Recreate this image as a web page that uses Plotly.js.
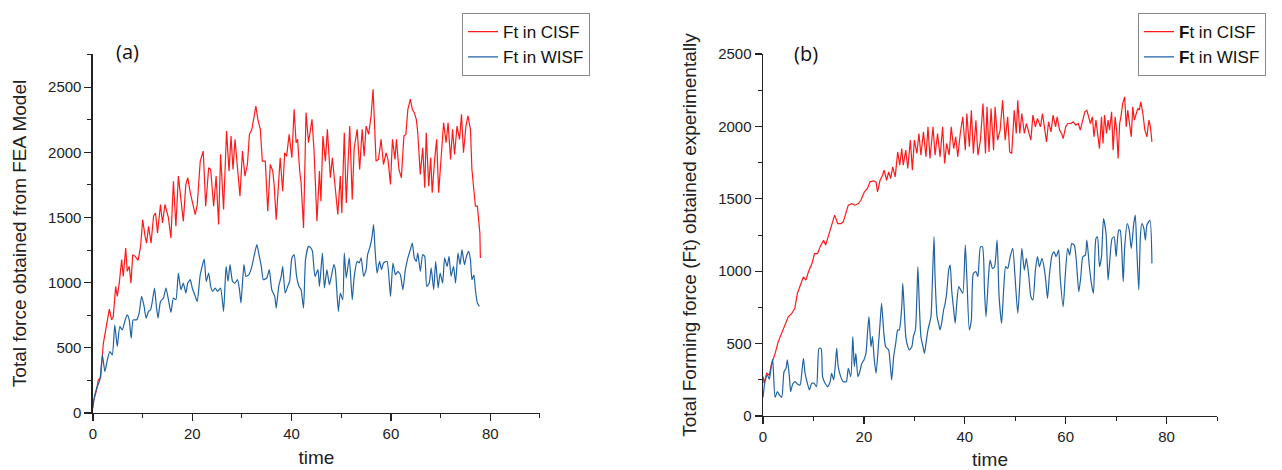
<!DOCTYPE html>
<html>
<head>
<meta charset="utf-8">
<script src="https://cdn.plot.ly/plotly-3.0.1.min.js"></script>
<style>html,body{margin:0;padding:0;background:#fff;}#chart{width:1282px;height:470px;}</style>
</head>
<body>
<div id="chart"></div>
<script>
// ---- (a) FEA model ----
const timeA_CISF = [0,0.74,1.08,1.55,2.08,2.4,2.9,3.3,3.76,4.1,4.57,4.9,5.3,5.78,6.1,6.6,6.9,7.3,7.66,8.0,8.5,9.1,9.6,10.0,10.5,10.8,11.2,11.7,12.2,12.6,13.0,13.6,14.0,14.5,15.2,15.7,16.2,16.7,17.2,17.7,18.2,18.7,19.1,19.6,20.1,20.6,21.0,21.6,22.2,22.7,23.3,23.7,24.3,24.8,25.3,25.7,26.3,26.9,27.4,27.8,28.2,28.6,29.1,29.6,30.1,30.6,31.1,31.5,32.0,32.3,32.8,33.2,33.7,34.1,34.7,35.2,35.7,36.2,36.5,36.9,37.4,37.7,38.2,38.6,39.0,39.5,40.05,40.5,40.9,41.2,41.6,41.9,42.4,42.9,43.4,43.7,44.1,44.5,45.1,45.6,45.9,46.3,46.8,47.2,47.8,48.2,48.8,49.3,49.8,50.1,50.6,51.0,51.7,52.2,52.6,53.2,53.7,54.2,54.6,55.0,55.5,56.0,56.4,56.7,57.0,57.5,58.0,58.5,59.0,59.4,59.9,60.3,60.8,61.1,61.6,62.1,62.6,63.0,63.4,63.9,64.3,64.7,65.1,65.4,65.9,66.4,66.8,67.1,67.6,68.0,68.3,68.8,69.2,69.6,70.1,70.6,71.1,71.5,72.0,72.4,72.8,73.3,73.8,74.2,74.6,75.1,75.5,76.0,76.3,76.6,77.0,77.4,77.9,78.0];
const forceA_CISF = [75,177,254,269,531,600,690,797,715,740,971,895,997,1177,1048,1266,1087,1125,997,1215,1202,1171,1279,1484,1356,1304,1433,1304,1510,1535,1381,1600,1458,1600,1497,1343,1779,1433,1818,1638,1471,1754,1805,1690,1612,1523,1600,1933,2010,1587,1882,1869,1587,1818,1446,1985,1561,2164,1856,2125,1869,2100,1882,1664,2010,1818,1907,2138,2177,2241,2356,2254,2177,1933,1933,1548,1907,1856,1741,1484,1792,1959,1702,1997,1971,2138,1959,2331,2074,2100,1869,1767,1420,2305,2074,2151,2254,2023,1471,1856,1625,2125,1933,2177,1805,1959,1715,1523,1818,1535,2151,1612,2202,1638,2036,2177,1869,2177,1971,2202,2138,2280,2485,2177,1933,1946,2100,1907,1997,1946,1754,2100,1946,2100,1869,1805,2125,2138,2331,2408,2331,2305,2254,2151,1831,2036,1728,2151,1741,1959,1690,1946,2100,1690,1971,2228,2074,2228,1946,2177,1984,2202,2100,2292,1997,2202,2280,2177,1869,1741,1587,1587,1381,1190];
const timeA_WISF = [0,0.2,0.74,1.4,1.9,2.4,2.9,3.4,3.9,4.4,4.9,5.4,5.9,6.5,6.9,7.3,7.7,8.1,8.8,9.3,9.8,10.3,10.7,11.2,11.6,11.9,12.4,12.7,13.1,13.6,14.2,14.7,15.2,15.7,16.2,16.7,17.2,17.7,18.2,18.7,19.1,19.6,20.0,20.6,21.0,21.6,22.4,22.8,23.3,23.7,24.1,24.6,25.1,25.7,26.3,26.8,27.2,27.6,28.1,28.6,29.1,29.5,29.8,30.4,30.8,31.4,32.0,32.5,33.0,33.5,33.9,34.3,35.0,35.5,36.0,36.6,36.9,37.4,37.9,38.2,38.7,39.2,39.6,40.05,40.5,41.0,41.5,41.9,42.4,42.8,43.4,43.9,44.2,44.7,45.3,45.6,46.2,46.6,47.1,47.6,48.0,48.5,48.8,49.4,49.8,50.3,50.6,51.0,51.6,52.2,52.6,53.2,53.6,54.0,54.5,55.0,55.3,55.8,56.2,56.5,56.8,57.2,57.7,58.1,58.5,59.2,59.9,60.4,60.9,61.4,61.9,62.4,62.9,63.4,63.9,64.3,64.7,65.1,65.4,65.9,66.4,66.8,67.2,67.7,68.1,68.6,69.0,69.5,69.9,70.4,70.8,71.3,71.7,72.1,72.6,73.0,73.5,73.9,74.3,74.8,75.2,75.6,76.0,76.3,76.7,77.0,77.4,77.8];
const forceA_WISF = [36,100,190,254,446,318,408,472,446,677,510,664,638,715,754,715,574,715,715,767,895,818,728,780,792,844,959,844,728,856,882,959,869,772,882,869,1074,946,997,920,997,1023,959,895,856,1061,1181,1010,1074,971,933,959,933,959,780,1125,1010,1138,1010,997,1023,946,844,1138,1048,1061,1125,1215,1292,1202,1125,1023,1036,1100,946,895,805,971,1048,1125,920,971,1010,1190,1215,1048,971,946,805,1177,1279,1266,1240,1048,1100,971,1228,959,1100,984,1048,1138,1100,780,920,869,1228,1036,1190,869,1048,1164,1151,1190,1048,1100,1215,1279,1356,1445,1253,1074,1164,1100,1151,1164,895,1151,1061,1087,1061,946,1100,1190,1253,1304,1190,1164,1228,1087,1215,1202,971,997,1113,946,1164,959,1074,997,1190,1125,1202,1048,1125,997,1228,1138,1253,1138,1202,1240,1177,1023,1061,946,844,818];

// ---- (b) experimental ----
const timeB_CISF = [0,0.2,0.73,1.25,1.7,2.4,3.0,3.7,4.4,5.0,5.7,6.3,6.8,7.3,8.0,8.5,9.0,9.7,10.2,10.8,11.3,12.0,12.4,12.9,13.5,14.2,14.8,15.5,15.9,16.4,16.9,17.6,18.2,18.9,19.4,20.1,20.7,21.2,21.9,22.4,22.7,23.2,23.7,24.0,24.5,24.9,25.3,25.7,26.2,26.7,27.1,27.5,27.8,28.3,28.7,29.2,29.6,30.0,30.5,30.9,31.3,31.8,32.3,32.7,33.1,33.7,34.1,34.6,35.1,35.6,36.0,36.4,36.9,37.3,37.8,38.2,38.6,39.1,39.6,40.1,40.4,40.9,41.3,41.7,42.2,42.6,43.1,43.6,44.1,44.4,44.8,45.2,45.7,46.0,46.5,47.0,47.5,48.0,48.5,48.9,49.3,49.8,50.2,50.5,50.9,51.3,51.8,52.2,52.6,53.1,53.5,54.0,54.4,55.0,55.4,55.8,56.2,56.6,57.1,57.5,58.0,58.3,58.8,59.2,59.5,60.0,60.4,61.0,61.5,62.0,62.5,62.9,63.3,63.8,64.2,64.6,64.9,65.3,65.6,66.0,66.4,66.7,67.1,67.4,67.7,68.1,68.4,68.7,69.1,69.4,69.8,70.1,70.4,70.7,71.0,71.3,71.7,72.0,72.3,72.7,73.0,73.3,73.6,74.0,74.3,74.6,74.9,75.3,75.7,76.1,76.5,76.8,77.1];
const forceB_CISF = [272,226,295,283,363,432,512,570,639,685,708,743,846,892,961,938,996,1053,1122,1122,1168,1214,1180,1237,1306,1387,1329,1329,1341,1398,1456,1467,1456,1467,1490,1548,1571,1617,1624,1617,1548,1628,1663,1698,1628,1686,1640,1721,1651,1824,1732,1847,1732,1836,1709,1905,1698,1905,1813,1951,1801,1962,1790,1997,1778,1997,1801,1951,1790,1997,1744,1882,1801,1997,1847,1928,1790,1951,2066,1836,2089,1859,2112,1813,2043,1801,1905,2158,1813,2135,1824,2124,1836,2135,1905,1974,2181,1905,2066,1824,1813,2112,1951,2181,1951,2089,1951,2020,1974,1905,2078,1997,2055,1997,2089,1985,1893,2032,1962,2078,1997,2066,1974,1951,1916,1997,2020,2020,2032,2009,2020,1974,2032,2101,2112,2066,2020,2066,1928,2043,1905,1847,2066,1882,2078,1951,2043,1974,2101,1836,2066,1974,1778,2020,2078,2158,2204,1997,2112,2020,1928,2135,2043,2089,2124,2112,2170,2089,1974,1928,2043,1997,1893];
const timeB_WISF = [0,0.39,0.86,1.25,1.58,1.91,2.38,2.84,3.24,3.7,4.16,4.56,4.82,5.22,5.48,5.88,6.34,6.8,7.34,7.67,8.0,8.33,8.79,9.19,9.65,10.1,10.6,11.1,11.5,11.8,12.3,12.8,13.3,13.6,14.0,14.3,14.6,14.9,15.4,15.9,16.5,16.9,17.4,17.8,18.1,18.4,18.8,19.1,19.6,20.0,20.4,20.7,21.0,21.4,21.7,22.0,22.4,22.9,23.2,23.5,23.9,24.3,24.9,25.2,25.5,25.9,26.3,26.7,27.0,27.5,27.7,28.0,28.3,28.7,29.0,29.5,29.8,30.2,30.5,30.7,31.0,31.3,31.7,32.0,32.3,32.7,33.0,33.3,33.6,33.9,34.1,34.5,34.8,35.1,35.4,35.8,36.1,36.4,36.8,37.1,37.4,37.8,38.1,38.4,38.8,39.2,39.6,40.1,40.4,40.9,41.3,41.7,42.2,42.6,43.1,43.5,43.9,44.2,44.7,45.0,45.5,45.9,46.4,46.8,47.3,47.7,48.1,48.5,49.0,49.5,50.0,50.5,50.9,51.3,51.8,52.2,52.7,53.1,53.5,54.0,54.4,54.8,55.3,55.8,56.1,56.4,56.8,57.3,57.7,58.1,58.6,58.9,59.5,59.9,60.4,60.8,61.2,61.7,62.1,62.6,63.0,63.4,63.9,64.2,64.7,65.1,65.5,66.0,66.3,66.7,67.1,67.5,68.0,68.4,68.7,69.2,69.6,70.0,70.5,70.8,71.4,71.7,72.2,72.6,73.0,73.5,73.8,74.1,74.5,74.8,75.1,75.5,75.8,76.1,76.7,77.1];
const forceB_WISF = [130,237,283,254,329,391,129,168,145,129,306,329,387,272,168,221,237,221,214,295,398,295,226,180,226,226,203,467,467,272,226,203,237,295,249,341,467,341,272,237,237,329,272,548,341,433,272,295,364,387,433,571,686,479,548,410,295,502,640,778,594,479,456,364,249,410,502,594,594,755,916,732,548,479,456,479,548,594,824,1031,755,548,479,433,502,594,640,686,962,1238,962,686,640,594,640,732,778,847,1008,1042,870,732,640,778,893,870,847,1180,962,594,663,985,997,962,1168,1168,870,686,962,1077,1019,1031,1214,824,640,870,1031,1019,1100,1157,939,709,916,1157,1008,1088,962,824,801,1008,1100,1031,1088,1008,916,812,985,1111,1134,1100,1145,962,755,962,1157,1111,1191,1180,1077,858,962,1100,1111,1214,1031,916,847,1226,1237,1031,1100,1364,1260,939,1054,1226,1237,1100,1283,1283,928,1168,1329,1283,1157,1329,1387,1145,870,1237,1329,1295,1214,1318,1352,1054];

const seriesNames = ['Ft in CISF', 'Ft in WISF'];
const seriesNamesB = ['<b>F</b>t in CISF', '<b>F</b>t in WISF'];
const redC = '#ff1a1a', blueC = '#1f63a3';
const FONT = 'Liberation Sans, Arial, sans-serif';

const traces = [
  {x: timeA_CISF, y: forceA_CISF, name: seriesNames[0], type:'scatter', mode:'lines', line:{color:redC, width:1.2}, xaxis:'x', yaxis:'y', legend:'legend'},
  {x: timeA_WISF, y: forceA_WISF, name: seriesNames[1], type:'scatter', mode:'lines', line:{color:blueC, width:1.2, shape:'spline', smoothing:0.5}, xaxis:'x', yaxis:'y', legend:'legend'},
  {x: timeB_CISF, y: forceB_CISF, name: seriesNamesB[0], type:'scatter', mode:'lines', line:{color:redC, width:1.2}, xaxis:'x2', yaxis:'y2', legend:'legend2'},
  {x: timeB_WISF, y: forceB_WISF, name: seriesNamesB[1], type:'scatter', mode:'lines', line:{color:blueC, width:1.2, shape:'spline', smoothing:0.6}, xaxis:'x2', yaxis:'y2', legend:'legend2'}
];

function xAx(domain, anchor) {
  return {domain: domain, anchor: anchor, range:[0,90], dtick:20, tick0:0, showline:true, linecolor:'#222', linewidth:1.5,
    ticks:'outside', ticklen:7, tickwidth:1.2, tickcolor:'#222', showgrid:false, zeroline:false,
    minor:{ticks:'outside', ticklen:4, tickwidth:1, tickcolor:'#222', dtick:10, tick0:0, showgrid:false},
    tickfont:{family:FONT, size:15, color:'#222'},
    title:{text:'time', font:{family:FONT, size:19, color:'#222'}, standoff:9}};
}
function yAx(domain, anchor, range, titleText) {
  return {domain: domain, anchor: anchor, range: range, dtick:500, tick0:0, showline:true, linecolor:'#222', linewidth:1.5,
    ticks:'outside', ticklen:7, tickwidth:1.2, tickcolor:'#222', showgrid:false, zeroline:false,
    minor:{ticks:'outside', ticklen:4, tickwidth:1, tickcolor:'#222', dtick:250, tick0:0, showgrid:false},
    tickfont:{family:FONT, size:15, color:'#222'},
    title:{text:titleText, font:{family:FONT, size:19, color:'#222'}, standoff:16}};
}

const layout = {
  width:1282, height:470, margin:{l:0,r:0,t:0,b:0}, paper_bgcolor:'#fff', plot_bgcolor:'#fff',
  showlegend:true,
  xaxis: xAx([0.0725,0.4212],'y'),
  yaxis: yAx([0.1213,0.8851],'x',[0,2755],'Total force obtained from FEA Model'),
  xaxis2: xAx([0.5952,0.9493],'y2'),
  yaxis2: yAx([0.1149,0.8851],'x2',[0,2500],'Total Forming force (Ft) obtained experimentally'),
  legend: {x:0.3604, y:0.972, xanchor:'left', yanchor:'top', bordercolor:'#888', borderwidth:1, bgcolor:'#fff',
    font:{family:FONT, size:17, color:'#111'}, tracegroupgap:0},
  legend2: {x:0.8877, y:0.972, xanchor:'left', yanchor:'top', bordercolor:'#888', borderwidth:1, bgcolor:'#fff',
    font:{family:FONT, size:17, color:'#111'}, tracegroupgap:0},
  annotations: [
    {text:'(a)', xref:'paper', yref:'paper', x:127/1282, y:1-52/470, xanchor:'center', yanchor:'middle', showarrow:false, font:{family:'Open Sans, sans-serif', size:20, color:'#111'}},
    {text:'(b)', xref:'paper', yref:'paper', x:806/1282, y:1-53/470, xanchor:'center', yanchor:'middle', showarrow:false, font:{family:'Open Sans, sans-serif', size:20, color:'#111'}}
  ]
};

Plotly.newPlot('chart', traces, layout, {displayModeBar:false, staticPlot:true});
</script>
</body>
</html>
